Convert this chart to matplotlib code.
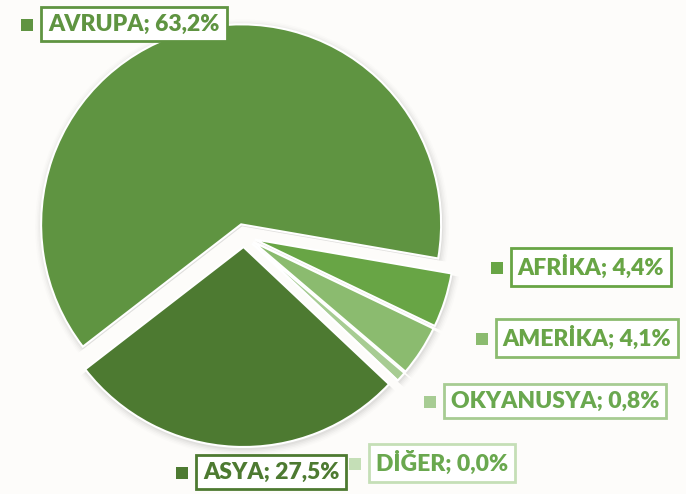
import matplotlib.pyplot as plt
import numpy as np

# Données du graphique (répartition par continent, en %)
continents = ["AVRUPA", "AFRİKA", "AMERİKA", "OKYANUSYA", "DİĞER", "ASYA"]
parts = [63.2, 4.4, 4.1, 0.8, 0.0, 27.5]
couleurs = ["#5f9441", "#68a545", "#8bbb6f", "#a7cc93", "#c5dfb7", "#4d7a31"]
couleurs_texte = ["#5f9441", "#68a545", "#69a548", "#6aa84f", "#6aa84f", "#4d7a31"]

# Position des étiquettes (pixels image : centre de la boîte)
pos_etiquettes = [(134, 24), (591, 267), (587, 338), (555, 401), (442, 463), (271, 472)]

W, H = 686, 494
fig = plt.figure(figsize=(W / 100, H / 100), dpi=100)
fig.patch.set_facecolor("#fdfcfa")
ax = fig.add_axes([0, 0, 1, 1])
ax.set_xlim(0, W)
ax.set_ylim(0, H)
ax.set_aspect("equal")
ax.axis("off")

centre = (244, H - 236)
rayon = 200
# décalage (en unités de données = pixels ici)
explode = [12, 11, 11, 11, 11, 11]

# Ombre douce sous les secteurs
for k, a in enumerate(np.linspace(0.035, 0.01, 5)):
    ax.pie(parts, radius=rayon + 1 + k * 1.5, center=(centre[0] + 1, centre[1] - 2),
           startangle=217.7, counterclock=False, explode=explode,
           colors=["#000000"] * len(parts),
           wedgeprops=dict(alpha=a, linewidth=0))

wedges, _ = ax.pie(parts, radius=rayon, center=centre, startangle=217.7,
                   counterclock=False, explode=explode, colors=couleurs,
                   wedgeprops=dict(edgecolor="white", linewidth=1.5))

ax.set_xlim(0, W)
ax.set_ylim(0, H)

etiquettes = []
for nom, val, c, ct, (x, y) in zip(continents, parts, couleurs, couleurs_texte, pos_etiquettes):
    txt = f"{nom}; {val:.1f}%".replace(".", ",")
    t = ax.text(x, H - y, txt, ha="center", va="center", fontsize=16.5,
                fontweight="heavy", family="Lato", color=ct,
                bbox=dict(boxstyle="square,pad=0.3", facecolor="white",
                          edgecolor=c, linewidth=2))
    etiquettes.append(t)

# petits carrés de légende devant chaque étiquette
fig.canvas.draw()
r = fig.canvas.get_renderer()
inv = ax.transData.inverted()
for t, c in zip(etiquettes, couleurs):
    bb = t.get_bbox_patch().get_window_extent(r)
    px, py = inv.transform((bb.x0 - 14, (bb.y0 + bb.y1) / 2 - 1))
    ax.plot(px, py, marker="s", markersize=8, color=c, markeredgewidth=0)

fig.savefig("out.png", dpi=100, facecolor=fig.get_facecolor())
